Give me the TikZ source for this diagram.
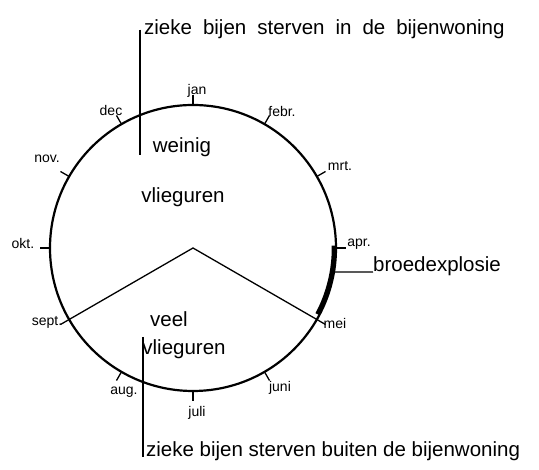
\documentclass[tikz,border=0pt]{standalone}
\usepackage{fontspec}
\setmainfont{Liberation Sans}
\usetikzlibrary{calc}

\begin{document}
\begin{tikzpicture}[x=1pt, y=1pt,
  ring/.style={draw=black, line width=2.2pt},
  leader/.style={draw=black, line width=1.3pt},
  brood/.style={draw=black, line width=4.5pt},
  month/.style={inner sep=0pt, font=\fontsize{14}{14}\selectfont},
  big/.style={inner sep=0pt, font=\fontsize{20.5}{22}\selectfont}]
  \useasboundingbox (-193,-222) rectangle (346,248);
  \coordinate (c) at (0,0);
  \draw[ring] (c) circle (143);
  % months round the year
  \foreach \a/\m/\lx/\ly [count=\i] in {90/jan/4/157, 60/febr./89/136, 30/mrt./147/82,
      0/apr./166/4, -30/mei/142/-76, -60/juni/87/-140, -90/juli/4/-165,
      -120/aug./-69/-144, -150/sept./-146/-74, 180/okt./-170/4, 150/nov./-146/89,
      120/dec/-82/137} {
    \coordinate (t\i) at (\a:143);
    \node[month] (m\i) at (\lx,\ly) {\m};
    \draw[leader] (t\i) -- ($(c)!1.07!(t\i)$);
  }
  % few / many flight hours
  \draw[leader] (t9) -- (c) -- (t5);
  \node[big, anchor=base] (weinig) at (-11,95) {weinig};
  \node[big, anchor=base] (vlieg1) at (-10,45) {vlieguren};
  \node[big, anchor=base west] (veel) at (-43,-79) {veel};
  \node[big, anchor=base] (vlieg2) at (-9,-107) {vlieguren};
  % brood explosion
  \coordinate (b1) at (1:141);
  \coordinate (bx) at (-9.7:143);
  \draw[brood] (b1) arc[start angle=1, end angle=-28, radius=141];
  \node[big, anchor=base west] (broed) at (180,-24) {broedexplosie};
  \draw[leader] (bx) -- (broed.base west);
  % where sick bees die
  \node[big, anchor=base west] (intext) at (-49,213)
    {\spaceskip=11pt zieke bijen sterven in de bijenwoning};
  \coordinate (inend) at (-53,93);
  \draw[leader] (inend |- intext.west) -- (inend);
  \node[big, anchor=base west] (outtext) at (-47,-209)
    {zieke bijen sterven buiten de bijenwoning};
  \coordinate (outstart) at (-50,-89);
  \draw[leader] (outstart) -- (outstart |- outtext.base);
\end{tikzpicture}
\end{document}
